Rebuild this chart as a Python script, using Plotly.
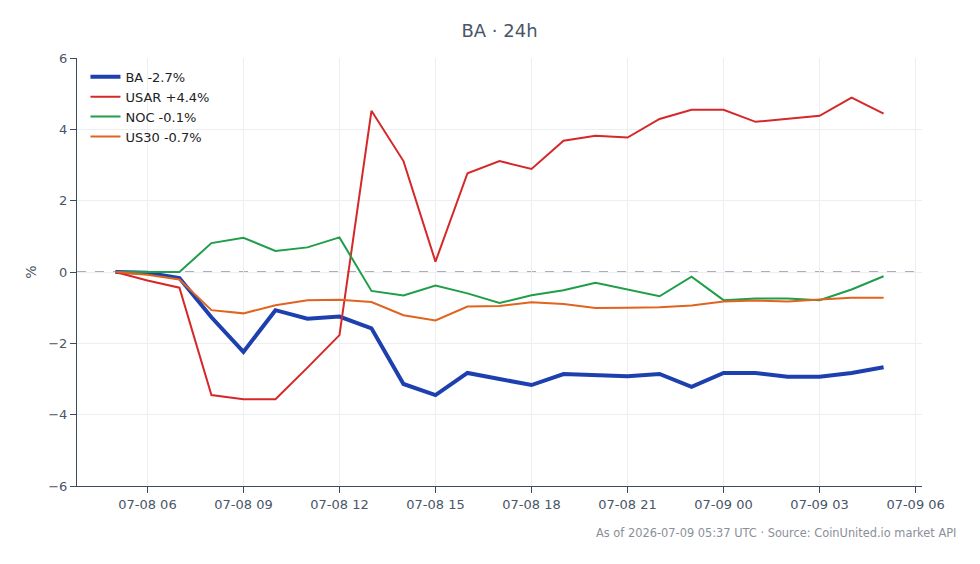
import plotly.graph_objects as go
import pandas as pd

times = pd.date_range("2026-07-08 05:00", "2026-07-09 05:00", freq="h")

ba = [0.0, -0.02, -0.17, -1.27, -2.24, -1.07, -1.31, -1.25, -1.58, -3.14, -3.45, -2.83,
      -3.0, -3.17, -2.86, -2.89, -2.92, -2.86, -3.22, -2.83, -2.83, -2.94, -2.94, -2.83, -2.67]
usar = [0.0, -0.24, -0.44, -3.45, -3.57, -3.57, -2.68, -1.77, 4.52, 3.11, 0.29, 2.77,
        3.11, 2.89, 3.68, 3.82, 3.77, 4.29, 4.55, 4.55, 4.21, 4.29, 4.38, 4.89, 4.44]
noc = [0.0, 0.01, 0.0, 0.81, 0.96, 0.59, 0.69, 0.97, -0.53, -0.66, -0.38, -0.6,
       -0.87, -0.65, -0.51, -0.3, -0.48, -0.68, -0.13, -0.79, -0.74, -0.74, -0.79, -0.49, -0.12]
us30 = [0.0, -0.08, -0.21, -1.07, -1.16, -0.93, -0.79, -0.78, -0.84, -1.21, -1.36, -0.97,
        -0.95, -0.85, -0.9, -1.01, -1.0, -0.99, -0.94, -0.83, -0.8, -0.83, -0.77, -0.72, -0.72]

series = [
    ("BA -2.7%", ba, "#1e40af", 4),
    ("USAR +4.4%", usar, "#d62828", 2),
    ("NOC -0.1%", noc, "#1f9e4a", 2),
    ("US30 -0.7%", us30, "#e0641e", 2),
]

font_family = "DejaVu Sans"
axis_color = "#3f4a5a"
text_color = "#4a5568"

fig = go.Figure()
for name, vals, color, width in series:
    fig.add_trace(go.Scatter(x=times, y=vals, mode="lines", name=name,
                             line=dict(color=color, width=width)))

fig.add_shape(type="line", xref="paper", x0=0, x1=1, yref="y", y0=0, y1=0,
              line=dict(color="#8796ad", width=1.3, dash="dash"), layer="below")

pad = pd.Timedelta(hours=1.2)
fig.update_layout(
    width=980, height=564,
    margin=dict(l=77, r=58, t=58, b=78),
    paper_bgcolor="white", plot_bgcolor="white",
    font=dict(family=font_family, size=13, color=text_color),
    title=dict(text="BA · 24h", xref="paper", x=0.5, xanchor="center", y=1 - 31 / 564, yanchor="middle",
               font=dict(family=font_family, size=18, color=text_color)),
    showlegend=True,
    legend=dict(x=0.01, y=0.991, xanchor="left", yanchor="top", bgcolor="rgba(255,255,255,0)",
                font=dict(family=font_family, size=13, color="#222222"), tracegroupgap=0,
                itemwidth=30),
    xaxis=dict(
        range=[times[0] - pad, times[-1] + pad],
        tickformat="%m-%d %H", dtick=3 * 3600 * 1000, tick0="2026-07-08 00:00",
        showgrid=True, gridcolor="#eceef2", zeroline=False,
        showline=True, linecolor=axis_color, linewidth=1.2,
        ticks="outside", ticklen=6, tickcolor=axis_color,
        tickfont=dict(family=font_family, size=13, color=text_color),
    ),
    yaxis=dict(
        range=[-6, 6], dtick=2, title=dict(text="%", standoff=8,
                                           font=dict(family=font_family, size=14, color=text_color)),
        showgrid=True, gridcolor="#eceef2", zeroline=False,
        showline=True, linecolor=axis_color, linewidth=1.2,
        ticks="outside", ticklen=6, tickcolor=axis_color,
        tickfont=dict(family=font_family, size=13, color=text_color),
    ),
    annotations=[dict(
        text="As of 2026-07-09 05:37 UTC · Source: CoinUnited.io market API",
        xref="paper", yref="paper", x=(958 - 77) / 845, y=(486 - 533) / 428,
        xanchor="right", yanchor="middle", showarrow=False,
        font=dict(family=font_family, size=11.4, color="#8a8f98"),
    )],
)

fig.write_html("out.html")
